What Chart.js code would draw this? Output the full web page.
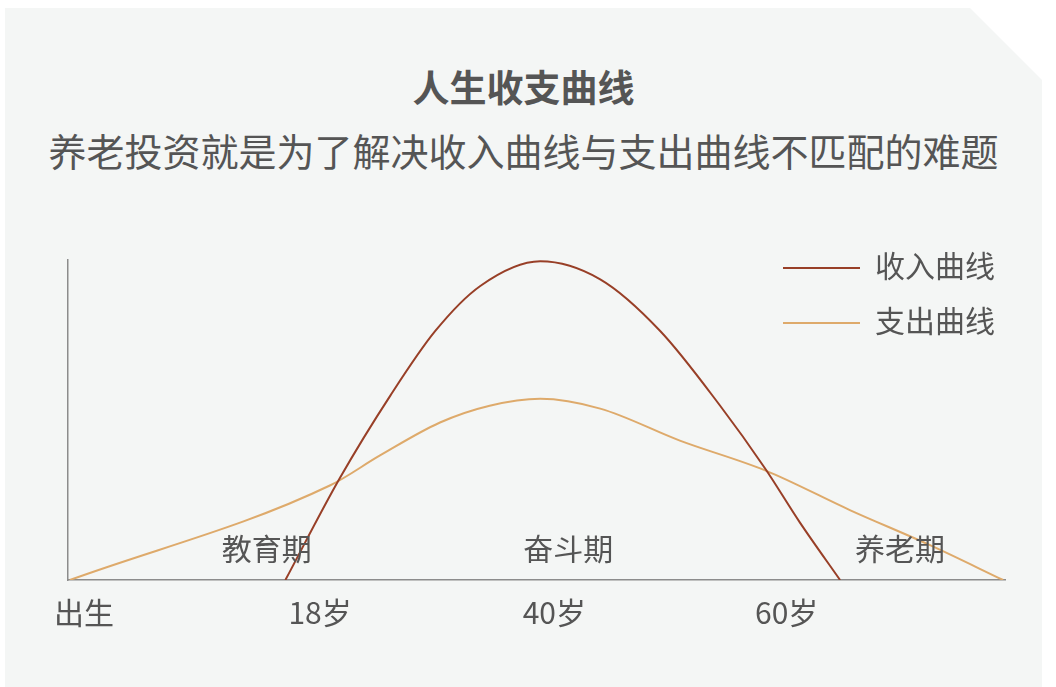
<!DOCTYPE html>
<html>
<head>
<meta charset="utf-8">
<script src="https://cdn.jsdelivr.net/npm/chart.js@4.4.1/dist/chart.umd.min.js"></script>
<style>
  html, body { margin: 0; padding: 0; background: #ffffff; }
  body { width: 1056px; height: 687px; position: relative; overflow: hidden;
         font-family: "Noto Sans CJK SC", "Noto Sans", sans-serif; color: #555555; }
  #panel { position: absolute; left: 5px; top: 8px; width: 1037px; height: 679px;
           background: #f4f6f5;
           clip-path: polygon(0 0, 965px 0, 1037px 72px, 1037px 679px, 0 679px); }
  .title { position: absolute; left: 5px; width: 1037px; text-align: center; white-space: nowrap; }
  #t1 { top: 62px; font-size: 37px; line-height: 48px; font-weight: bold; }
  #t2 { top: 124px; font-size: 38px; line-height: 52px; }
  #wrap { position: absolute; left: 0; top: 0; width: 1056px; height: 687px; }
</style>
</head>
<body>
<div id="panel"></div>
<div class="title" id="t1">人生收支曲线</div>
<div class="title" id="t2">养老投资就是为了解决收入曲线与支出曲线不匹配的难题</div>
<div id="wrap"><canvas id="lifeChart" width="1056" height="687"></canvas></div>
<script>
// x runs 0..100 across the axis, y runs 0..101 (relative amount)
const tickLabels = ['出生', '18岁', '40岁', '60岁'];
const tickPositions = [1.7, 26.9, 51.9, 76.7];

const periodLabels = ['教育期', '奋斗期', '养老期'];
const periodX = [21.2, 53.4, 88.8];
const periodY = 10;

const incomeX = [23.2, 29.0, 34.4, 39.2, 44.0, 50.4, 56.8, 63.2, 69.6, 74.4, 78.1, 82.4];
const incomeY = [0, 32.1, 58.2, 78.6, 92.8, 100.6, 94.9, 78.6, 55.0, 35.2, 18.2, 0];

const expenseX = [0.2, 28.0, 33.3, 39.7, 45.0, 50.4, 56.8, 65.3, 74.4, 83.5, 92.0, 99.8];
const expenseY = [0, 29.9, 39.3, 49.7, 55.0, 57.2, 54.1, 44.0, 34.6, 22.0, 11.0, 0];

const seriesNames = ['收入曲线', '支出曲线'];
const textColor = '#555555';
const font = '"Noto Sans CJK SC", "Noto Sans", sans-serif';

function toPoints(xs, ys) {
    return xs.map((x, i) => ({ x: x, y: ys[i] }));
}

// period names inside the plot + legend at top right
const labelsPlugin = {
    id: 'labelsPlugin',
    afterDraw(chart) {
        const ctx = chart.ctx;
        const xs = chart.scales.x, ys = chart.scales.y;
        ctx.save();
        ctx.fillStyle = textColor;
        ctx.font = '30px ' + font;
        ctx.textAlign = 'center';
        ctx.textBaseline = 'middle';
        periodLabels.forEach((t, i) => {
            ctx.fillText(t, xs.getPixelForValue(periodX[i]), ys.getPixelForValue(periodY));
        });

        // legend
        chart.data.datasets.forEach((ds, i) => {
            const y = 268 + i * 55;
            ctx.strokeStyle = ds.borderColor;
            ctx.lineWidth = 2;
            ctx.beginPath();
            ctx.moveTo(783, y);
            ctx.lineTo(860, y);
            ctx.stroke();
            ctx.textAlign = 'left';
            ctx.fillStyle = textColor;
            ctx.fillText(ds.label, 875, y - 2);
        });
        ctx.restore();
    }
};

const ctx = document.getElementById('lifeChart').getContext('2d');
const chart = new Chart(ctx, {
    type: 'line',
    data: {
        datasets: [{
            label: seriesNames[0],
            data: toPoints(incomeX, incomeY),
            borderColor: '#983f27',
            borderWidth: 2,
            pointRadius: 0,
            cubicInterpolationMode: 'monotone',
            fill: false
        }, {
            label: seriesNames[1],
            data: toPoints(expenseX, expenseY),
            borderColor: '#deaa6b',
            borderWidth: 2,
            pointRadius: 0,
            cubicInterpolationMode: 'monotone',
            fill: false
        }]
    },
    options: {
        responsive: false,
        animation: false,
        layout: { padding: { left: 68, right: 51, top: 260, bottom: 41 } },
        plugins: {
            legend: { display: false },
            tooltip: { enabled: false }
        },
        scales: {
            x: {
                type: 'linear',
                min: 0,
                max: 100,
                grid: { display: false, drawTicks: false },
                border: { display: true, color: '#8c8c8c', width: 1.5 },
                afterBuildTicks: (axis) => {
                    axis.ticks = tickPositions.map(v => ({ value: v }));
                },
                ticks: {
                    padding: 15,
                    maxRotation: 0,
                    autoSkip: false,
                    color: textColor,
                    font: { size: 30, family: font },
                    callback: (v) => tickLabels[tickPositions.indexOf(v)]
                }
            },
            y: {
                min: 0,
                max: 101,
                grid: { display: false, drawTicks: false },
                border: { display: true, color: '#8c8c8c', width: 1.5 },
                ticks: { display: false }
            }
        }
    },
    plugins: [labelsPlugin]
});
</script>
</body>
</html>
